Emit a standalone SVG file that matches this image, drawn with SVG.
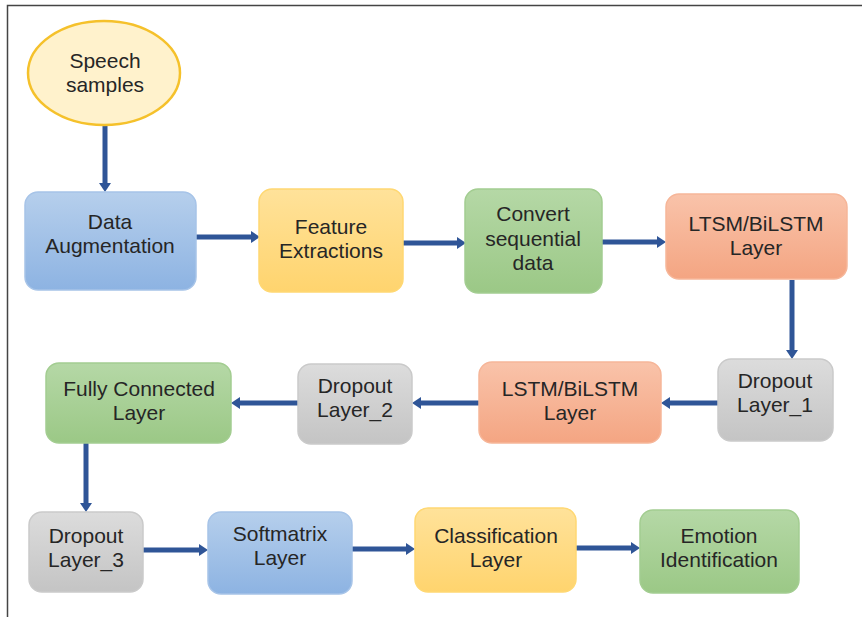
<svg xmlns="http://www.w3.org/2000/svg" width="862" height="617" viewBox="0 0 862 617">
<defs>
<linearGradient id="gBlue" x1="0" y1="0" x2="0" y2="1"><stop offset="0" stop-color="#B6CFEC"/><stop offset="1" stop-color="#8DB3E2"/></linearGradient>
<linearGradient id="gYellow" x1="0" y1="0" x2="0" y2="1"><stop offset="0" stop-color="#FFE29A"/><stop offset="1" stop-color="#FFD46E"/></linearGradient>
<linearGradient id="gGreen" x1="0" y1="0" x2="0" y2="1"><stop offset="0" stop-color="#B5D8A6"/><stop offset="1" stop-color="#9BC886"/></linearGradient>
<linearGradient id="gOrange" x1="0" y1="0" x2="0" y2="1"><stop offset="0" stop-color="#F9C3AA"/><stop offset="1" stop-color="#F4A582"/></linearGradient>
<linearGradient id="gGray" x1="0" y1="0" x2="0" y2="1"><stop offset="0" stop-color="#DCDCDC"/><stop offset="1" stop-color="#C4C4C4"/></linearGradient>
<marker id="ah" markerUnits="userSpaceOnUse" markerWidth="9" markerHeight="12" refX="0" refY="6" orient="auto" viewBox="0 0 9 12"><path d="M0,0 L9,6 L0,12 z" fill="#2F5597"/></marker>
</defs>
<style>
.box{stroke-width:1.5}
.blue{fill:url(#gBlue);stroke:#A7C4E8}
.yellow{fill:url(#gYellow);stroke:#FFD873}
.green{fill:url(#gGreen);stroke:#A3CD91}
.orange{fill:url(#gOrange);stroke:#F6B699}
.gray{fill:url(#gGray);stroke:#CACACA}
text{font-family:"Liberation Sans",Arial,sans-serif;font-size:21px;fill:#262626;text-anchor:middle}
.conn line{stroke:#2F5597;stroke-width:5;marker-end:url(#ah)}
</style>
<rect width="862" height="617" fill="#FFFFFF"/>
<path d="M7.5,617 V5.5 H862" fill="none" stroke="#444444" stroke-width="1.5"/>
<g class="conn" id="connectors">
<line x1="105" y1="125" x2="105" y2="183"/>
<line x1="196" y1="237" x2="251" y2="237"/>
<line x1="403" y1="243" x2="457" y2="243"/>
<line x1="602" y1="242" x2="657" y2="242"/>
<line x1="792" y1="280" x2="792" y2="350"/>
<line x1="718" y1="403" x2="670" y2="403"/>
<line x1="479" y1="403" x2="421" y2="403"/>
<line x1="298" y1="403" x2="240" y2="403"/>
<line x1="86" y1="443" x2="86" y2="503"/>
<line x1="143" y1="550" x2="199" y2="550"/>
<line x1="352" y1="549" x2="406" y2="549"/>
<line x1="576" y1="548" x2="631" y2="548"/>
</g>
<g id="speech-samples"><ellipse cx="104" cy="73" rx="76" ry="52" fill="#FFF2CC" stroke="#F5C12B" stroke-width="2.5"/><text x="105" y="68">Speech</text><text x="105" y="92">samples</text></g>
<g id="data-augmentation"><rect class="box blue" x="25" y="192" width="171" height="98" rx="13"/><text x="110" y="229">Data</text><text x="110" y="253">Augmentation</text></g>
<g id="feature-extractions"><rect class="box yellow" x="259" y="189" width="144" height="103" rx="13"/><text x="331" y="234">Feature</text><text x="331" y="258">Extractions</text></g>
<g id="convert-sequential"><rect class="box green" x="465" y="189" width="137" height="104" rx="13"/><text x="533" y="221">Convert</text><text x="533" y="246">sequential</text><text x="533" y="270">data</text></g>
<g id="ltsm-layer"><rect class="box orange" x="666" y="194" width="181" height="85" rx="13"/><text x="756" y="231">LTSM/BiLSTM</text><text x="756" y="255">Layer</text></g>
<g id="dropout-1"><rect class="box gray" x="718" y="359" width="115" height="82" rx="13"/><text x="775" y="388">Dropout</text><text x="775" y="412">Layer_1</text></g>
<g id="lstm-layer"><rect class="box orange" x="479" y="362" width="182" height="81" rx="13"/><text x="570" y="396">LSTM/BiLSTM</text><text x="570" y="420">Layer</text></g>
<g id="dropout-2"><rect class="box gray" x="298" y="364" width="114" height="80" rx="13"/><text x="355" y="393">Dropout</text><text x="355" y="417">Layer_2</text></g>
<g id="fully-connected"><rect class="box green" x="46" y="363" width="185" height="80" rx="13"/><text x="139" y="396">Fully Connected</text><text x="139" y="420">Layer</text></g>
<g id="dropout-3"><rect class="box gray" x="29" y="512" width="114" height="80" rx="13"/><text x="86" y="543">Dropout</text><text x="86" y="567">Layer_3</text></g>
<g id="softmatrix"><rect class="box blue" x="208" y="512" width="144" height="82" rx="13"/><text x="280" y="541">Softmatrix</text><text x="280" y="565">Layer</text></g>
<g id="classification"><rect class="box yellow" x="415" y="508" width="161" height="84" rx="13"/><text x="496" y="543">Classification</text><text x="496" y="567">Layer</text></g>
<g id="emotion-identification"><rect class="box green" x="640" y="510" width="159" height="83" rx="13"/><text x="719" y="543">Emotion</text><text x="719" y="567">Identification</text></g>
</svg>
